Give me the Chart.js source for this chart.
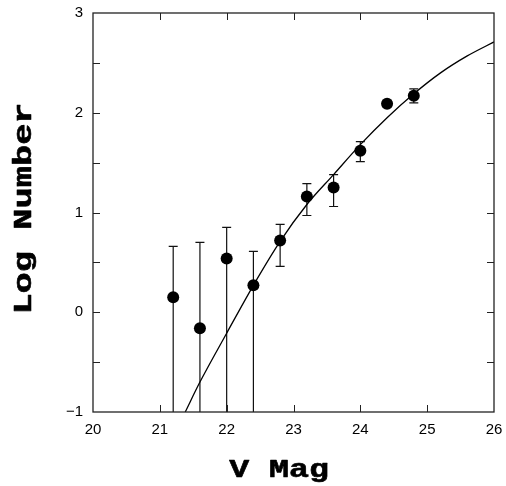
<!DOCTYPE html>
<html>
<head>
<meta charset="utf-8">
<script src="https://cdn.jsdelivr.net/npm/chart.js@4/dist/chart.umd.min.js"></script>
<style>
  html, body { margin: 0; padding: 0; background: #fff; }
  #wrap { width: 506px; height: 486px; }
</style>
</head>
<body>
<div id="wrap"><canvas id="lf" width="506" height="486"></canvas></div>
<script>
// Counts per magnitude bin (log10), with error bar limits
const vMag = [21.2, 21.6, 22.0, 22.4, 22.8, 23.2, 23.6, 24.0, 24.4, 24.8];
const logNum = [0.15, -0.16, 0.54, 0.27, 0.72, 1.16, 1.25, 1.62, 2.09, 2.17];
const errHi = [0.66, 0.70, 0.85, 0.61, 0.88, 1.29, 1.38, 1.71, 2.12, 2.24];
const errLo = [-1, -1, -1, -1, 0.46, 0.97, 1.06, 1.51, 2.06, 2.10];

// Model curve
const modelMag = [21.38, 21.6, 22.0, 22.4, 22.8, 23.2, 23.6, 24.0, 24.4, 24.8, 25.2, 25.6, 26.0];
const modelLog = [-1, -0.70, -0.21, 0.27, 0.71, 1.08, 1.38, 1.68, 1.95, 2.19, 2.40, 2.57, 2.71];

// Axes
const xRange = [20, 26];
const yRange = [-1, 3];
const xTickStep = 1;
const yTickStep = 0.5;
const xTitle = 'V Mag';
const yTitle = 'Log Number';

const points = vMag.map((x, i) => ({ x, y: logNum[i] }));
const model = modelMag.map((x, i) => ({ x, y: modelLog[i] }));

// vertical error bars with caps, under the markers
const errorBars = {
  id: 'errorBars',
  beforeDatasetsDraw(chart) {
    const { ctx, chartArea: a, scales: { x, y } } = chart;
    ctx.save();
    ctx.beginPath();
    ctx.rect(a.left, a.top, a.width, a.height);
    ctx.clip();
    ctx.strokeStyle = '#111';
    ctx.lineWidth = 1.2;
    vMag.forEach((m, i) => {
      const px = x.getPixelForValue(m);
      const top = y.getPixelForValue(errHi[i]);
      const bot = y.getPixelForValue(errLo[i]);
      ctx.beginPath();
      ctx.moveTo(px, top);
      ctx.lineTo(px, bot);
      ctx.moveTo(px - 4.5, top);
      ctx.lineTo(px + 4.5, top);
      if (errLo[i] > yRange[0]) {
        ctx.moveTo(px - 4.5, bot);
        ctx.lineTo(px + 4.5, bot);
      }
      ctx.stroke();
    });
    ctx.restore();
  }
};

// box round the plot and inward tick marks on all four sides
const frame = {
  id: 'frame',
  afterDraw(chart) {
    const { ctx, chartArea: a, scales: { x, y } } = chart;
    const len = 7;
    ctx.save();
    ctx.strokeStyle = '#222';
    ctx.lineWidth = 1.3;
    ctx.strokeRect(a.left, a.top, a.width, a.height);
    ctx.beginPath();
    x.ticks.forEach(t => {
      if (t.value <= xRange[0] || t.value >= xRange[1]) return;
      const px = Math.round(x.getPixelForValue(t.value)) + 0.5;
      ctx.moveTo(px, a.bottom); ctx.lineTo(px, a.bottom - len);
      ctx.moveTo(px, a.top); ctx.lineTo(px, a.top + len);
    });
    y.ticks.forEach(t => {
      if (t.value <= yRange[0] || t.value >= yRange[1]) return;
      const py = Math.round(y.getPixelForValue(t.value)) + 0.5;
      ctx.moveTo(a.left, py); ctx.lineTo(a.left + len, py);
      ctx.moveTo(a.right, py); ctx.lineTo(a.right - len, py);
    });
    ctx.lineWidth = 1;
    ctx.stroke();
    ctx.restore();
  }
};

// wide, heavy typewriter titles
const titles = {
  id: 'titles',
  afterDraw(chart) {
    const { ctx, chartArea: a } = chart;
    ctx.save();
    ctx.fillStyle = '#000';
    ctx.strokeStyle = '#000';
    ctx.lineWidth = 0.6;
    ctx.lineJoin = 'round';
    ctx.font = 'bold 26px "Liberation Mono", "DejaVu Sans Mono", monospace';
    ctx.textAlign = 'center';
    ctx.textBaseline = 'alphabetic';

    ctx.save();
    ctx.translate(a.left + a.width * 0.464, 477);
    ctx.scale(1.28, 1);
    ctx.fillText(xTitle, 0, 0);
    ctx.strokeText(xTitle, 0, 0);
    ctx.restore();

    ctx.save();
    ctx.translate(31, a.top + a.height * 0.49);
    ctx.rotate(-Math.PI / 2);
    ctx.scale(1.36, 1);
    ctx.fillText(yTitle, 0, 0);
    ctx.strokeText(yTitle, 0, 0);
    ctx.restore();

    ctx.restore();
  }
};

const tickFont = { family: '"Liberation Sans", Arial, sans-serif', size: 15 };

new Chart(document.getElementById('lf').getContext('2d'), {
  type: 'scatter',
  data: {
    datasets: [
      {
        label: 'counts',
        data: points,
        pointRadius: 6,
        pointHoverRadius: 6,
        pointBackgroundColor: '#000',
        pointBorderWidth: 0,
        showLine: false
      },
      {
        label: 'model',
        data: model,
        showLine: true,
        borderColor: '#000',
        borderWidth: 1.3,
        pointRadius: 0,
        cubicInterpolationMode: 'monotone',
        fill: false
      }
    ]
  },
  options: {
    responsive: false,
    animation: false,
    events: [],
    layout: { padding: { left: 0, top: 13, right: 12, bottom: 0 } },
    plugins: {
      legend: { display: false },
      tooltip: { enabled: false },
      title: { display: false }
    },
    scales: {
      x: {
        type: 'linear',
        min: xRange[0],
        max: xRange[1],
        grid: { display: false, drawTicks: false },
        border: { display: false },
        afterFit: s => { s.height = 74; s.paddingLeft = 0; s.paddingRight = 0; },
        ticks: {
          stepSize: xTickStep,
          autoSkip: false,
          maxRotation: 0,
          padding: 9,
          color: '#000',
          font: tickFont,
          callback: v => String(v)
        }
      },
      y: {
        type: 'linear',
        min: yRange[0],
        max: yRange[1],
        grid: { display: false, drawTicks: false },
        border: { display: false },
        afterFit: s => { s.width = 93; s.paddingTop = 0; s.paddingBottom = 0; },
        ticks: {
          stepSize: yTickStep,
          autoSkip: false,
          padding: 10,
          color: '#000',
          font: tickFont,
          callback: v => Number.isInteger(v) ? (v < 0 ? '\u2212' + Math.abs(v) : String(v)) : ''
        }
      }
    }
  },
  plugins: [errorBars, frame, titles]
});
</script>
</body>
</html>
